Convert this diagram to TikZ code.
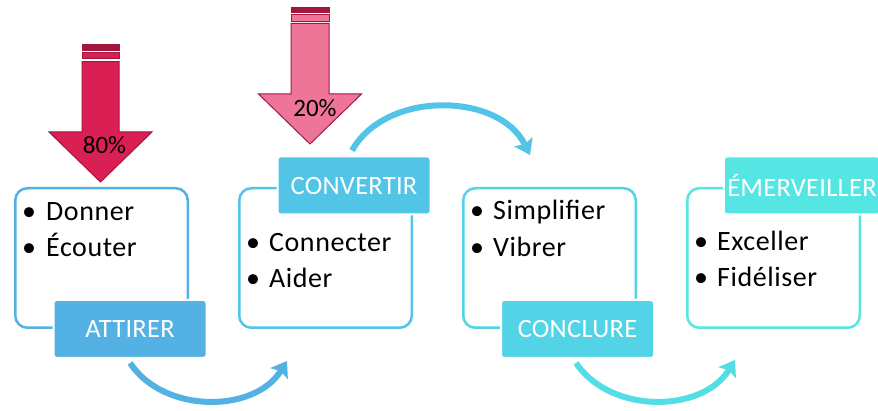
\documentclass[tikz,border=0pt]{standalone}
\usepackage{fontspec}
\setmainfont{Carlito}
\usepackage{xcolor}
\usepackage{tikz}
\usetikzlibrary{calc}
\usetikzlibrary{positioning,arrows.meta}

\definecolor{bleuA}{HTML}{53B1E4}
\definecolor{bleuB}{HTML}{52C4E6}
\definecolor{bleuC}{HTML}{52D3E6}
\definecolor{bleuD}{HTML}{55E6E3}
\definecolor{rouge}{HTML}{DA1F55}
\definecolor{rose}{HTML}{EF7598}
\definecolor{bordeaux}{HTML}{A3173F}

\tikzset{
  cadre/.style={draw=#1, line width=2.5pt, rounded corners=12pt, minimum width=172.5pt, minimum height=139.5pt},
  etiquette/.style={fill=#1, draw=white, line width=2pt, rounded corners=3pt, minimum width=153pt, minimum height=58pt, text=white, font=\addfontfeature{LetterSpace=1}\fontsize{26.5}{30}\selectfont},
  puce/.style={anchor=base west, inner sep=0pt, font=\addfontfeature{LetterSpace=2}\fontsize{28}{34}\selectfont},
  fleche/.style={draw=#1, line width=6pt, -{Stealth[length=15pt, width=21pt, inset=3pt, line width=0pt]}},
}

\begin{document}
\begin{tikzpicture}[x=1pt, y=1pt]
        \useasboundingbox (0,0) rectangle (878,411);
        %CADRES
       \node[cadre=bleuA] (cadre1) at (101.5,153) {};
       \node[cadre=bleuB] (cadre2) at (325.5,153) {};
       \node[cadre=bleuC] (cadre3) at (549.5,153) {};
       \node[cadre=bleuD] (cadre4) at (773.5,153) {};
        %ETIQUETTES
       \node[etiquette=bleuA, xshift=28.5pt] (attirer) at (cadre1.south) {ATTIRER};
       \node[etiquette=bleuB, xshift=28.5pt, yshift=1.5pt] (convertir) at (cadre2.north) {CONVERTIR};
       \node[etiquette=bleuC, xshift=28pt] (conclure) at (cadre3.south) {CONCLURE};
       \node[etiquette=bleuD, xshift=28.5pt, yshift=1.5pt] (emerveiller) at (cadre4.north) {ÉMERVEILLER};
        %LISTES
       \node[puce] (donner) at ($(cadre1.north west)+(8,-34)$) {\makebox[24pt][l]{\textbullet}Donner};
       \node[puce] (ecouter) at ($(cadre1.north west)+(8,-70)$) {\makebox[24pt][l]{\textbullet}Écouter};
       \node[puce] (connecter) at ($(cadre2.north west)+(8,-65)$) {\makebox[23pt][l]{\textbullet}Connecter};
       \node[puce] (aider) at ($(cadre2.north west)+(8,-101)$) {\makebox[23pt][l]{\textbullet}Aider};
       \node[puce] (simplifier) at ($(cadre3.north west)+(8,-33)$) {\makebox[23pt][l]{\textbullet}Simplifier};
       \node[puce] (vibrer) at ($(cadre3.north west)+(8,-70)$) {\makebox[23pt][l]{\textbullet}Vibrer};
       \node[puce] (exceller) at ($(cadre4.north west)+(8,-64)$) {\makebox[23pt][l]{\textbullet}Exceller};
       \node[puce] (fideliser) at ($(cadre4.north west)+(8,-100)$) {\makebox[23pt][l]{\textbullet}Fidéliser};
        %FLECHES COURBES
       \draw[fleche=bleuA] ($(attirer.south)+(0,-4)$) to[bend right=57] ($(cadre2.south)+(-38.5,-32)$);
       \draw[fleche=bleuB] ($(convertir.north)+(-2,5)$) to[bend left=62] ($(cadre3.north)+(-19.5,32)$);
       \draw[fleche=bleuC!50!bleuD] ($(conclure.south)+(-1.5,-4)$) to[bend right=57] ($(cadre4.south)+(-38.5,-31)$);
        %FLECHE 80%
       \begin{scope}[shift={(100.5,229)}]
       \draw[bordeaux, line width=1pt, fill=rouge] (0,0) -- (-51.5,50) -- (-18.5,50) -- (-18.5,120.3) -- (18.5,120.3) -- (18.5,50) -- (51.5,50) -- cycle;
       \draw[bordeaux, line width=1pt, fill=rouge] (-18.5,123) rectangle (18.5,129.7);
       \draw[bordeaux, line width=1pt, fill=bordeaux] (-18.5,131) rectangle (18.5,137);
       \node[font=\fontsize{25}{30}\selectfont] (pct80) at (4,37) {80\%};
       \end{scope}
        %FLECHE 20%
       \begin{scope}[shift={(310,267)}]
       \draw[bordeaux, line width=1pt, fill=rose] (0,0) -- (-51.5,50) -- (-19,50) -- (-19,120.5) -- (19,120.5) -- (19,50) -- (51.5,50) -- cycle;
       \draw[bordeaux, line width=1pt, fill=rose] (-19,122.5) rectangle (19,129.2);
       \draw[bordeaux, line width=1pt, fill=bordeaux] (-19,131) rectangle (19,136);
       \node[font=\fontsize{25}{30}\selectfont] (pct20) at (5,36) {20\%};
       \end{scope}
    \end{tikzpicture}
\end{document}
